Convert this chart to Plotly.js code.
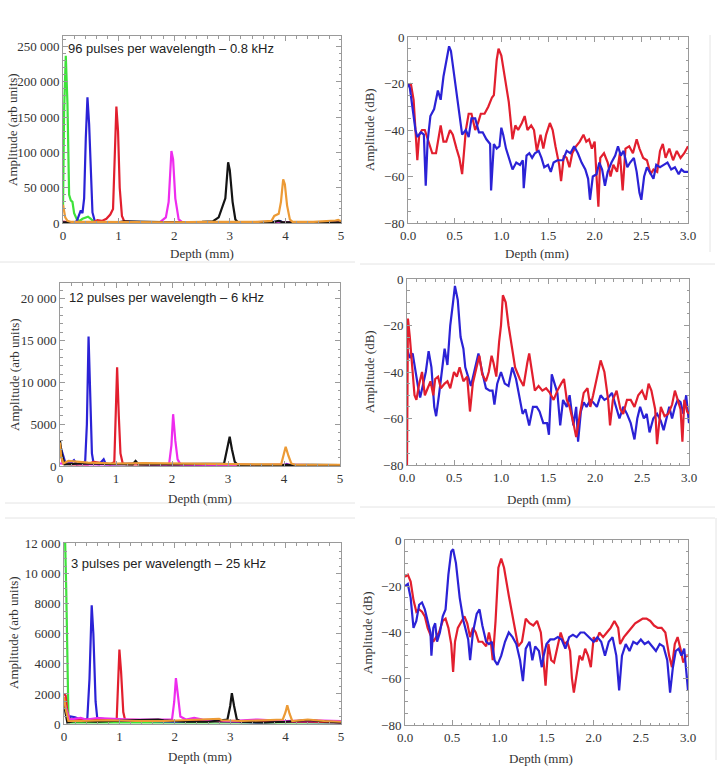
<!DOCTYPE html>
<html>
<head>
<meta charset="utf-8">
<script src="https://cdn.plot.ly/plotly-3.0.1.min.js"></script>
<style>html,body{margin:0;padding:0;background:#fff;}#chart{width:721px;height:771px;}</style>
</head>
<body>
<div id="chart"></div>
<script>
// ---------- Panel A (96 pulses per wavelength – 0.8 kHz), linear amplitude ----------
const a_green_x = [0, 0.02, 0.05, 0.08, 0.11, 0.14, 0.17, 0.2, 0.25, 0.3, 0.35, 0.4, 0.45, 0.5, 0.55, 0.6, 0.7, 1.5, 2.5, 3.5, 4.5, 5];
const a_green_y = [22000, 160000, 237000, 170000, 40000, 32000, 30000, 14000, 5000, 3000, 6000, 8000, 9000, 6000, 2000, 500, 300, 300, 300, 300, 300, 300];
const a_blue_x = [0, 0.1, 0.2, 0.25, 0.28, 0.32, 0.35, 0.38, 0.41, 0.44, 0.47, 0.5, 0.53, 0.57, 0.62, 0.8, 1.2, 1.8, 2.5, 3.2, 3.85, 3.9, 3.95, 4.5, 5];
const a_blue_y = [1000, 500, 500, 3000, 10000, 18000, 14000, 35000, 120000, 178000, 140000, 60000, 15000, 3000, 500, 800, 1500, 500, 800, 500, 1500, 3000, 1000, 500, 500];
const a_red_x = [0, 0.1, 0.3, 0.55, 0.62, 0.7, 0.78, 0.85, 0.9, 0.93, 0.96, 0.99, 1.02, 1.06, 1.1, 1.2, 1.5, 2.0, 2.5, 3.0, 3.5, 4.0, 4.5, 5];
const a_red_y = [2000, 800, 500, 1000, 4000, 3000, 6000, 12000, 20000, 100000, 165000, 130000, 50000, 10000, 2500, 1500, 1000, 800, 1200, 800, 1000, 800, 1000, 800];
const a_mag_x = [0, 0.5, 1.0, 1.5, 1.75, 1.85, 1.9, 1.95, 1.98, 2.02, 2.08, 2.15, 2.5, 3.0, 3.5, 4.0, 4.5, 5];
const a_mag_y = [500, 300, 500, 800, 1500, 8000, 30000, 102000, 90000, 35000, 5000, 800, 500, 600, 400, 500, 400, 500];
const a_black_x = [0, 0.5, 1.0, 1.1, 1.5, 2.0, 2.5, 2.7, 2.8, 2.88, 2.92, 2.97, 3.0, 3.05, 3.1, 3.15, 3.5, 3.8, 3.88, 3.95, 4.5, 5];
const a_black_y = [1000, 500, 800, 2500, 1500, 800, 1500, 2500, 8000, 26000, 35000, 86000, 75000, 30000, 5000, 800, 500, 1500, 3000, 1000, 500, 800];
const a_orange_x = [0, 0.04, 0.08, 0.15, 0.5, 1.0, 1.5, 2.0, 2.5, 3.0, 3.5, 3.75, 3.8, 3.88, 3.92, 3.96, 3.99, 4.03, 4.08, 4.13, 4.5, 4.9, 4.95, 5];
const a_orange_y = [26000, 8000, 3000, 1500, 1500, 1200, 1500, 1000, 1500, 1200, 1500, 3000, 10000, 13000, 30000, 62000, 55000, 25000, 5000, 1500, 1500, 3500, 4500, 2500];

// ---------- Panel B (96 pulses), dB ----------
const b_blue_x = [0, 0.02, 0.08, 0.1, 0.14, 0.17, 0.19, 0.21, 0.24, 0.28, 0.32, 0.35, 0.38, 0.42, 0.44, 0.46, 0.5, 0.54, 0.58, 0.62, 0.65, 0.68, 0.72, 0.76, 0.8, 0.84, 0.88, 0.89, 0.92, 0.95, 0.98, 1.0, 1.02, 1.05, 1.08, 1.12, 1.16, 1.2, 1.23, 1.24, 1.27, 1.3, 1.33, 1.36, 1.4, 1.43, 1.46, 1.5, 1.53, 1.56, 1.6, 1.63, 1.66, 1.7, 1.74, 1.78, 1.82, 1.86, 1.9, 1.93, 1.95, 1.98, 2.02, 2.05, 2.08, 2.11, 2.14, 2.18, 2.22, 2.25, 2.28, 2.31, 2.35, 2.38, 2.42, 2.45, 2.48, 2.5, 2.53, 2.56, 2.6, 2.63, 2.66, 2.7, 2.74, 2.78, 2.82, 2.86, 2.9, 2.93, 2.96, 3.0];
const b_blue_y = [-20, -22, -40, -43, -41, -42, -64, -45, -34, -31, -23, -27, -17, -8, -4, -6, -18, -32, -42, -40, -43, -35, -35, -41, -41, -44, -46, -66, -46, -48, -47, -39, -42, -48, -52, -57, -54, -55, -53, -65, -51, -50, -52, -50, -49, -52, -56, -55, -58, -54, -53, -53, -53, -49, -50, -47, -50, -54, -57, -61, -70, -60, -59, -54, -57, -64, -58, -54, -51, -47, -51, -49, -56, -54, -52, -58, -67, -70, -60, -56, -59, -61, -55, -56, -55, -54, -57, -56, -59, -57, -58, -58];
const b_red_x = [0, 0.03, 0.06, 0.09, 0.1, 0.12, 0.15, 0.18, 0.22, 0.26, 0.3, 0.33, 0.35, 0.38, 0.41, 0.45, 0.48, 0.52, 0.55, 0.58, 0.6, 0.62, 0.65, 0.68, 0.72, 0.75, 0.78, 0.82, 0.86, 0.9, 0.92, 0.95, 0.97, 1.0, 1.04, 1.08, 1.12, 1.15, 1.18, 1.22, 1.25, 1.28, 1.32, 1.35, 1.38, 1.42, 1.45, 1.48, 1.52, 1.55, 1.58, 1.62, 1.64, 1.67, 1.7, 1.73, 1.76, 1.8, 1.84, 1.88, 1.91, 1.94, 1.97, 2.0, 2.02, 2.04, 2.06, 2.1, 2.14, 2.17, 2.2, 2.24, 2.27, 2.3, 2.33, 2.37, 2.41, 2.45, 2.48, 2.52, 2.56, 2.6, 2.63, 2.67, 2.7, 2.73, 2.76, 2.8, 2.84, 2.88, 2.92, 2.96, 3.0];
const b_red_y = [-21, -20, -27, -45, -53, -42, -40, -40, -45, -50, -50, -42, -38, -45, -45, -40, -42, -48, -52, -59, -49, -40, -33, -33, -40, -37, -33, -33, -30, -26, -25, -10, -5, -8, -18, -28, -44, -38, -40, -37, -34, -40, -38, -40, -49, -42, -48, -42, -37, -40, -47, -55, -62, -51, -52, -56, -50, -47, -45, -42, -45, -44, -48, -45, -60, -73, -52, -50, -54, -60, -55, -58, -50, -66, -48, -47, -50, -44, -48, -52, -53, -59, -57, -58, -49, -46, -52, -48, -53, -49, -52, -50, -47];

// ---------- Panel C (12 pulses per wavelength – 6 kHz), linear ----------
const c_blue_x = [0, 0.1, 0.2, 0.25, 0.3, 0.4, 0.45, 0.48, 0.51, 0.54, 0.57, 0.6, 0.7, 0.78, 0.82, 0.9, 1.3, 1.6, 2.0, 2.5, 3.0, 3.5, 4.0, 4.05, 4.1, 4.5, 5];
const c_blue_y = [2500, 300, 400, 700, 200, 300, 600, 5000, 15500, 8000, 1500, 300, 200, 800, 200, 200, 300, 150, 200, 100, 150, 100, 100, 250, 100, 100, 100];
const c_red_x = [0, 0.05, 0.2, 0.5, 0.6, 0.9, 0.97, 1.0, 1.02, 1.05, 1.08, 1.12, 1.2, 1.5, 2.0, 2.5, 3.0, 3.5, 4.0, 4.5, 5];
const c_red_y = [2000, 300, 200, 200, 500, 200, 500, 6000, 11800, 6000, 1500, 300, 200, 200, 200, 150, 200, 100, 150, 100, 100];
const c_mag_x = [0, 0.5, 1.0, 1.5, 1.9, 1.95, 1.99, 2.02, 2.06, 2.1, 2.15, 2.5, 3.0, 3.5, 4.0, 4.5, 5];
const c_mag_y = [300, 200, 200, 300, 200, 300, 2500, 6200, 3000, 800, 200, 150, 150, 100, 150, 100, 100];
const c_black_x = [0, 0.03, 0.08, 0.4, 1.3, 1.35, 1.4, 2.0, 2.6, 2.93, 3.0, 3.03, 3.07, 3.12, 3.18, 3.5, 4.0, 4.5, 5];
const c_black_y = [3000, 1500, 200, 300, 200, 600, 200, 200, 250, 300, 2500, 3500, 2000, 500, 100, 150, 100, 150, 100];
const c_orange_x = [0, 0.02, 0.06, 0.15, 0.5, 1.0, 1.5, 2.0, 2.5, 3.0, 3.5, 3.95, 4.0, 4.03, 4.08, 4.13, 4.2, 4.5, 5];
const c_orange_y = [2800, 1200, 300, 600, 400, 300, 350, 300, 250, 200, 200, 200, 1500, 2300, 1200, 300, 150, 150, 150];

// ---------- Panel D (12 pulses), dB ----------
const d_red_x = [0, 0.01, 0.03, 0.06, 0.08, 0.1, 0.13, 0.16, 0.19, 0.22, 0.25, 0.28, 0.3, 0.33, 0.36, 0.4, 0.43, 0.46, 0.5, 0.53, 0.56, 0.6, 0.64, 0.67, 0.7, 0.74, 0.77, 0.8, 0.84, 0.87, 0.9, 0.92, 0.95, 0.98, 1.0, 1.02, 1.05, 1.08, 1.12, 1.15, 1.2, 1.24, 1.28, 1.3, 1.33, 1.36, 1.4, 1.44, 1.48, 1.52, 1.56, 1.6, 1.64, 1.67, 1.7, 1.73, 1.77, 1.8, 1.84, 1.88, 1.92, 1.95, 1.98, 2.02, 2.06, 2.1, 2.14, 2.16, 2.19, 2.23, 2.27, 2.3, 2.34, 2.38, 2.42, 2.46, 2.5, 2.54, 2.57, 2.6, 2.64, 2.66, 2.7, 2.74, 2.78, 2.82, 2.85, 2.88, 2.91, 2.93, 2.95, 2.98, 3.0];
const d_red_y = [-80, -17, -25, -40, -50, -52, -45, -40, -50, -47, -44, -50, -43, -42, -47, -45, -44, -47, -40, -42, -38, -44, -42, -57, -45, -38, -33, -41, -44, -40, -33, -36, -42, -27, -20, -7, -10, -20, -30, -38, -43, -46, -36, -32, -40, -48, -46, -48, -47, -49, -52, -48, -45, -43, -52, -55, -62, -68, -58, -49, -47, -55, -50, -43, -35, -40, -52, -63, -52, -48, -56, -58, -52, -52, -55, -50, -48, -52, -45, -48, -56, -71, -55, -59, -58, -54, -48, -52, -56, -70, -52, -57, -58];
const d_blue_x = [0, 0.03, 0.06, 0.09, 0.12, 0.14, 0.17, 0.2, 0.23, 0.26, 0.29, 0.31, 0.34, 0.38, 0.4, 0.43, 0.46, 0.49, 0.51, 0.54, 0.57, 0.6, 0.62, 0.65, 0.68, 0.72, 0.76, 0.8, 0.84, 0.88, 0.91, 0.93, 0.96, 1.0, 1.04, 1.08, 1.12, 1.16, 1.2, 1.23, 1.26, 1.3, 1.34, 1.38, 1.41, 1.45, 1.49, 1.51, 1.54, 1.57, 1.6, 1.63, 1.66, 1.7, 1.73, 1.77, 1.8, 1.82, 1.85, 1.88, 1.91, 1.95, 1.98, 2.02, 2.06, 2.1, 2.14, 2.18, 2.22, 2.26, 2.3, 2.34, 2.38, 2.42, 2.45, 2.48, 2.52, 2.55, 2.58, 2.62, 2.66, 2.7, 2.73, 2.76, 2.79, 2.82, 2.85, 2.88, 2.91, 2.94, 2.97, 3.0];
const d_blue_y = [-30, -34, -32, -40, -47, -51, -45, -40, -31, -38, -55, -59, -50, -35, -30, -37, -20, -10, -3, -9, -25, -30, -38, -42, -46, -39, -32, -40, -47, -48, -48, -54, -45, -40, -45, -46, -38, -43, -52, -58, -56, -63, -55, -55, -57, -62, -62, -67, -41, -45, -49, -63, -52, -55, -50, -63, -55, -70, -57, -53, -55, -52, -53, -55, -50, -52, -51, -49, -54, -60, -55, -58, -62, -69, -60, -55, -60, -58, -66, -60, -58, -61, -65, -60, -55, -60, -55, -52, -53, -58, -50, -62];

// ---------- Panel E (3 pulses per wavelength – 25 kHz), linear ----------
const e_green_x = [0, 0.02, 0.04, 0.06, 0.08, 0.1, 0.5, 1, 2, 3, 4, 5];
const e_green_y = [12500, 12200, 9000, 4000, 500, 100, 100, 100, 100, 100, 100, 100];
const e_red_x = [0, 0.03, 0.06, 0.1, 0.2, 0.5, 0.8, 0.95, 0.98, 1.0, 1.03, 1.07, 1.1, 1.2, 1.5, 2.0, 2.5, 3.0, 3.5, 4.0, 4.5, 5];
const e_red_y = [2000, 1900, 800, 300, 300, 300, 300, 200, 2500, 4950, 3500, 800, 300, 300, 250, 200, 200, 150, 150, 200, 150, 100];
const e_blue_x = [0, 0.08, 0.12, 0.2, 0.3, 0.42, 0.46, 0.5, 0.53, 0.57, 0.6, 0.7, 0.8, 1.0, 1.5, 2.0, 2.5, 3.0, 3.5, 4.0, 4.5, 5];
const e_blue_y = [1500, 300, 500, 450, 300, 300, 3000, 7900, 6000, 1500, 400, 350, 300, 200, 200, 150, 200, 150, 100, 150, 100, 100];
const e_mag_x = [0, 0.1, 0.3, 0.4, 0.6, 0.8, 1.2, 1.6, 1.95, 1.99, 2.02, 2.06, 2.1, 2.2, 2.35, 2.5, 3.0, 3.5, 4.0, 4.5, 5];
const e_mag_y = [1500, 300, 400, 300, 400, 350, 300, 300, 300, 1500, 3050, 1800, 500, 300, 400, 300, 200, 300, 200, 250, 200];
const e_black_x = [0, 0.03, 0.06, 0.2, 0.6, 1.2, 1.7, 1.8, 2.2, 2.6, 2.95, 3.0, 3.03, 3.07, 3.12, 3.2, 3.6, 4.0, 4.4, 4.8, 5];
const e_black_y = [1300, 800, 100, 200, 150, 250, 300, 250, 150, 150, 300, 1200, 2050, 1200, 300, 150, 100, 150, 250, 150, 100];
const e_orange_x = [0, 0.03, 0.08, 0.3, 0.8, 1.3, 1.8, 2.3, 2.75, 2.8, 2.85, 3.2, 3.6, 3.95, 4.0, 4.03, 4.07, 4.12, 4.4, 4.7, 5];
const e_orange_y = [1800, 1000, 200, 200, 250, 200, 200, 250, 300, 350, 250, 200, 250, 300, 800, 1250, 700, 200, 300, 200, 150];

// ---------- Panel F (3 pulses), dB ----------
const f_red_x = [0, 0.03, 0.06, 0.09, 0.12, 0.15, 0.18, 0.21, 0.24, 0.27, 0.3, 0.33, 0.36, 0.4, 0.43, 0.46, 0.49, 0.51, 0.53, 0.56, 0.6, 0.63, 0.66, 0.69, 0.72, 0.75, 0.78, 0.82, 0.86, 0.89, 0.91, 0.93, 0.96, 0.99, 1.02, 1.05, 1.1, 1.15, 1.2, 1.24, 1.28, 1.32, 1.36, 1.4, 1.44, 1.47, 1.49, 1.52, 1.55, 1.58, 1.62, 1.65, 1.69, 1.72, 1.75, 1.77, 1.79, 1.82, 1.85, 1.88, 1.91, 1.94, 1.97, 2.0, 2.03, 2.06, 2.1, 2.14, 2.18, 2.22, 2.26, 2.28, 2.32, 2.36, 2.4, 2.44, 2.48, 2.52, 2.56, 2.6, 2.64, 2.68, 2.72, 2.76, 2.8, 2.83, 2.86, 2.89, 2.92, 2.95, 2.98, 3.0];
const f_red_y = [-16, -15, -18, -26, -31, -30, -31, -33, -38, -41, -44, -42, -40, -35, -34, -38, -45, -57, -44, -38, -35, -33, -36, -42, -38, -40, -44, -44, -46, -40, -44, -52, -35, -12, -8, -12, -24, -35, -46, -44, -34, -36, -37, -35, -40, -53, -63, -45, -52, -53, -45, -40, -45, -44, -48, -60, -66, -58, -50, -52, -47, -50, -55, -42, -44, -40, -42, -40, -38, -35, -38, -45, -42, -40, -38, -36, -35, -34, -34, -35, -37, -38, -38, -40, -50, -55, -45, -42, -47, -53, -50, -50];
const f_blue_x = [0, 0.03, 0.06, 0.09, 0.12, 0.15, 0.18, 0.21, 0.24, 0.27, 0.28, 0.3, 0.32, 0.34, 0.37, 0.4, 0.43, 0.46, 0.49, 0.51, 0.54, 0.58, 0.62, 0.65, 0.67, 0.69, 0.72, 0.76, 0.79, 0.82, 0.86, 0.89, 0.92, 0.95, 0.98, 1.02, 1.06, 1.1, 1.14, 1.18, 1.22, 1.25, 1.28, 1.32, 1.35, 1.38, 1.42, 1.45, 1.47, 1.5, 1.54, 1.58, 1.62, 1.66, 1.7, 1.74, 1.78, 1.82, 1.86, 1.9, 1.95, 2.0, 2.04, 2.08, 2.12, 2.16, 2.2, 2.24, 2.27, 2.3, 2.34, 2.38, 2.42, 2.46, 2.5, 2.54, 2.58, 2.62, 2.66, 2.7, 2.74, 2.78, 2.81, 2.84, 2.87, 2.9, 2.93, 2.96, 3.0];
const f_blue_y = [-20, -19, -25, -38, -35, -28, -27, -30, -35, -40, -50, -38, -36, -44, -40, -33, -30, -15, -5, -4, -10, -25, -35, -40, -43, -52, -40, -32, -30, -37, -44, -45, -44, -52, -54, -50, -44, -40, -42, -45, -52, -61, -47, -44, -52, -46, -48, -55, -50, -45, -43, -43, -42, -43, -47, -42, -41, -42, -40, -40, -42, -44, -42, -44, -50, -44, -42, -50, -65, -50, -45, -48, -44, -45, -43, -45, -44, -46, -48, -45, -46, -52, -66, -55, -48, -47, -50, -47, -65];

// tick labels
const ticksA_vals = [0, 50000, 100000, 150000, 200000, 250000];
const ticksA_text = ["0", "50 000", "100 000", "150 000", "200 000", "250 000"];
const ticksC_vals = [0, 5000, 10000, 15000, 20000];
const ticksC_text = ["0", "5000", "10 000", "15 000", "20 000"];
const ticksE_vals = [0, 2000, 4000, 6000, 8000, 10000, 12000];
const ticksE_text = ["0", "2000", "4000", "6000", "8000", "10 000", "12 000"];
const depthTicksL = [0, 1, 2, 3, 4, 5];
const depthTicksR = [0, 0.5, 1.0, 1.5, 2.0, 2.5, 3.0];
const depthTicksR_text = ["0.0", "0.5", "1.0", "1.5", "2.0", "2.5", "3.0"];
const dbTicks = [-80, -60, -40, -20, 0];
const panelLabels = ["96 pulses per wavelength \u2013 0.8 kHz", "12 pulses per wavelength \u2013 6 kHz", "3 pulses per wavelength \u2013 25 kHz"];

// ---------- styling ----------
const C = {green: "#3ee23a", blue: "#2b22d6", red: "#e21f2e", mag: "#ee2cee", black: "#141414", orange: "#ec9a35"};
const W = 721, H = 771;
const frame = "#9a9a9a";
const serif = "Liberation Serif, Times New Roman, serif";

function xd(a, b) { return [a / W, b / W]; }
function yd(top, bot) { return [1 - bot / H, 1 - top / H]; }

function tr(x, y, col, xa, ya) {
  return {x: x, y: y, xaxis: xa, yaxis: ya, type: "scatter", mode: "lines",
          line: {color: col, width: 2.2}, hoverinfo: "skip", showlegend: false};
}

const data = [
  tr(a_green_x, a_green_y, C.green, "x", "y"),
  tr(a_blue_x, a_blue_y, C.blue, "x", "y"),
  tr(a_red_x, a_red_y, C.red, "x", "y"),
  tr(a_mag_x, a_mag_y, C.mag, "x", "y"),
  tr(a_black_x, a_black_y, C.black, "x", "y"),
  tr(a_orange_x, a_orange_y, C.orange, "x", "y"),
  tr(b_red_x, b_red_y, C.red, "x2", "y2"),
  tr(b_blue_x, b_blue_y, C.blue, "x2", "y2"),
  tr(c_blue_x, c_blue_y, C.blue, "x3", "y3"),
  tr(c_red_x, c_red_y, C.red, "x3", "y3"),
  tr(c_mag_x, c_mag_y, C.mag, "x3", "y3"),
  tr(c_black_x, c_black_y, C.black, "x3", "y3"),
  tr(c_orange_x, c_orange_y, C.orange, "x3", "y3"),
  tr(d_blue_x, d_blue_y, C.blue, "x4", "y4"),
  tr(d_red_x, d_red_y, C.red, "x4", "y4"),
  tr(e_green_x, e_green_y, C.green, "x5", "y5"),
  tr(e_blue_x, e_blue_y, C.blue, "x5", "y5"),
  tr(e_red_x, e_red_y, C.red, "x5", "y5"),
  tr(e_mag_x, e_mag_y, C.mag, "x5", "y5"),
  tr(e_black_x, e_black_y, C.black, "x5", "y5"),
  tr(e_orange_x, e_orange_y, C.orange, "x5", "y5"),
  tr(f_red_x, f_red_y, C.red, "x6", "y6"),
  tr(f_blue_x, f_blue_y, C.blue, "x6", "y6")
];

function ax(domain, range, anchor, opts) {
  return Object.assign({
    domain: domain, range: range, anchor: anchor, autorange: false,
    showgrid: false, zeroline: false, showline: true, linecolor: frame, linewidth: 1,
    mirror: "ticks", ticks: "inside", ticklen: 5, tickwidth: 1, tickcolor: frame,
    tickfont: {family: serif, size: 13, color: "#333"},
    fixedrange: true
  }, opts);
}

const layout = {
  width: W, height: H,
  margin: {l: 0, r: 0, t: 0, b: 0},
  paper_bgcolor: "#fff", plot_bgcolor: "#fff",
  showlegend: false,
  xaxis:  ax(xd(63, 341), [0, 5], "y",  {tickvals: depthTicksL, minor: {ticks: "inside", ticklen: 2.5, tickcolor: frame, dtick: 0.2}}),
  yaxis:  ax(yd(36, 223), [0, 265000], "x", {tickvals: ticksA_vals, ticktext: ticksA_text, minor: {ticks: "inside", ticklen: 2.5, tickcolor: frame, dtick: 10000}}),
  xaxis2: ax(xd(408, 688), [0, 3], "y2", {tickvals: depthTicksR, ticktext: depthTicksR_text, minor: {ticks: "inside", ticklen: 2.5, tickcolor: frame, dtick: 0.1}}),
  yaxis2: ax(yd(37, 223), [-80, 0], "x2", {tickvals: dbTicks, minor: {ticks: "inside", ticklen: 2.5, tickcolor: frame, dtick: 5}}),
  xaxis3: ax(xd(60, 340), [0, 5], "y3", {tickvals: depthTicksL, minor: {ticks: "inside", ticklen: 2.5, tickcolor: frame, dtick: 0.2}}),
  yaxis3: ax(yd(283, 466), [0, 21900], "x3", {tickvals: ticksC_vals, ticktext: ticksC_text, minor: {ticks: "inside", ticklen: 2.5, tickcolor: frame, dtick: 1000}}),
  xaxis4: ax(xd(407, 689), [0, 3], "y4", {tickvals: depthTicksR, ticktext: depthTicksR_text, minor: {ticks: "inside", ticklen: 2.5, tickcolor: frame, dtick: 0.1}}),
  yaxis4: ax(yd(279, 465), [-80, 0], "x4", {tickvals: dbTicks, minor: {ticks: "inside", ticklen: 2.5, tickcolor: frame, dtick: 5}}),
  xaxis5: ax(xd(64, 341), [0, 5], "y5", {tickvals: depthTicksL, minor: {ticks: "inside", ticklen: 2.5, tickcolor: frame, dtick: 0.2}}),
  yaxis5: ax(yd(543, 724), [0, 12050], "x5", {tickvals: ticksE_vals, ticktext: ticksE_text, minor: {ticks: "inside", ticklen: 2.5, tickcolor: frame, dtick: 500}}),
  xaxis6: ax(xd(405, 688), [0, 3], "y6", {tickvals: depthTicksR, ticktext: depthTicksR_text, minor: {ticks: "inside", ticklen: 2.5, tickcolor: frame, dtick: 0.1}}),
  yaxis6: ax(yd(540, 725), [-80, 0], "x6", {tickvals: dbTicks, minor: {ticks: "inside", ticklen: 2.5, tickcolor: frame, dtick: 5}}),
  annotations: [],
  shapes: []
};

function note(text, xpx, ypx, opts) {
  layout.annotations.push(Object.assign({
    text: text, xref: "paper", yref: "paper", x: xpx / W, y: 1 - ypx / H,
    showarrow: false, xanchor: "center", yanchor: "middle",
    font: {family: serif, size: 13, color: "#333"}
  }, opts || {}));
}

// panel labels (sans)
const sans = {family: "Liberation Sans, Arial, sans-serif", size: 13, color: "#222"};
note(panelLabels[0], 66, 48, {xanchor: "left", font: sans});
note(panelLabels[1], 67, 297, {xanchor: "left", font: sans});
note(panelLabels[2], 69, 563, {xanchor: "left", font: sans});

// axis titles
note("Depth (mm)", 202, 254);
note("Depth (mm)", 537, 254);
note("Depth (mm)", 200, 498);
note("Depth (mm)", 539, 499);
note("Depth (mm)", 200, 756);
note("Depth (mm)", 541, 758);
note("Amplitude (arb units)", 12, 130, {textangle: -90});
note("Amplitude (dB)", 369, 130, {textangle: -90});
note("Amplitude (arb units)", 14, 375, {textangle: -90});
note("Amplitude (dB)", 369, 372, {textangle: -90});
note("Amplitude (arb units)", 13, 633, {textangle: -90});
note("Amplitude (dB)", 367, 633, {textangle: -90});

// faint borders of the pasted panels
function seg(x0, y0, x1, y1) {
  layout.shapes.push({type: "line", xref: "paper", yref: "paper",
    x0: x0 / W, y0: 1 - y0 / H, x1: x1 / W, y1: 1 - y1 / H,
    line: {color: "#e4e4e4", width: 1}});
}
seg(710, 35, 710, 252);
seg(0, 262, 355, 262);
seg(360, 264, 715, 264);
seg(5, 503, 355, 503);
seg(360, 507, 715, 507);
seg(400, 518, 715, 518);
seg(716, 518, 716, 760);
seg(5, 518, 355, 518);

Plotly.newPlot("chart", data, layout, {staticPlot: true, displayModeBar: false});
</script>
</body>
</html>
